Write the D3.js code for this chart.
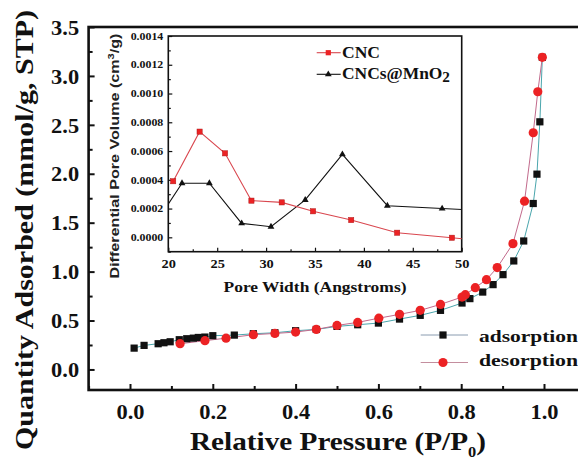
<!DOCTYPE html>
<html><head><meta charset="utf-8">
<script src="https://cdn.jsdelivr.net/npm/d3@7"></script>
<style>
body{margin:0;background:#fff}
svg text{font-family:"Liberation Serif","Times New Roman",serif;font-weight:bold;fill:#111}
</style>
</head><body><svg id="c" width="578" height="470"></svg>
<script>
// ---- main isotherm data ----
const adsP = [0.010,0.034,0.068,0.082,0.097,0.119,0.137,0.153,0.165,0.181,0.200,0.252,0.298,0.350,0.400,0.450,0.500,0.550,0.600,0.651,0.701,0.750,0.802,0.821,0.852,0.877,0.901,0.927,0.951,0.974,0.983,0.990,0.996];
const adsQ = [0.218,0.246,0.263,0.273,0.283,0.304,0.314,0.320,0.327,0.331,0.345,0.351,0.365,0.375,0.396,0.409,0.440,0.457,0.474,0.515,0.553,0.604,0.679,0.724,0.791,0.867,0.969,1.109,1.313,1.696,1.996,2.531,3.190];
const desP = [0.996,0.985,0.974,0.953,0.925,0.887,0.861,0.834,0.810,0.802,0.750,0.701,0.651,0.601,0.550,0.500,0.450,0.400,0.350,0.298,0.232,0.181,0.121];
const desQ = [3.190,2.838,2.419,1.720,1.286,1.041,0.918,0.836,0.764,0.740,0.665,0.604,0.563,0.524,0.481,0.450,0.409,0.382,0.368,0.355,0.320,0.294,0.263];
const xTicks = [0,0.2,0.4,0.6,0.8,1.0];
const xMinor = [-0.1,0.1,0.3,0.5,0.7,0.9];
const yTicks = [0,0.5,1.0,1.5,2.0,2.5,3.0,3.5];
const yMinor = [0.25,0.75,1.25,1.75,2.25,2.75,3.25];
// ---- inset pore size data ----
const cncW = [20.5,23.2,25.8,28.5,31.6,34.8,38.7,43.4,49.0,51.5];
const cncV = [0.00039,0.000735,0.000584,0.000255,0.000243,0.000181,0.00012,0.000032,-0.000003,-0.00002];
const mnW = [19.5,21.4,24.2,27.5,30.5,34.0,37.8,42.4,48.0,51.5];
const mnV = [0.00018,0.000376,0.000376,0.000097,0.000074,0.00026,0.000577,0.00022,0.0002,0.000188];
const ixTicks = [20,25,30,35,40,45,50];
const ixMinor = [22.5,27.5,32.5,37.5,42.5,47.5];
const iyTicks = [0,0.0002,0.0004,0.0006,0.0008,0.0010,0.0012,0.0014];
const iyMinor = [-0.0001,0.0001,0.0003,0.0005,0.0007,0.0009,0.0011,0.0013];

const svg = d3.select("#c");
const RED = "#ec2224";
const x = d3.scaleLinear([-0.1,1.1],[88.6,585.4]);
const y = d3.scaleLinear([-0.21,3.5],[390,27]);

function stretch(sel, f){ sel.each(function(){ const w=this.getComputedTextLength(); this.setAttribute("textLength", w*f); this.setAttribute("lengthAdjust","spacingAndGlyphs"); }); }

// main axes
const gx = svg.append("g").attr("transform",`translate(0,${y.range()[0]})`);
gx.call(d3.axisBottom(x).tickValues(xTicks).tickSize(-6).tickFormat(d3.format(".1f")));
gx.selectAll(".tick line").attr("stroke","#111").attr("stroke-width",2);
gx.selectAll("text").attr("y",29.3).attr("dy",null).style("font-size","20px");
stretch(gx.selectAll("text"),1.12);
const gx2 = svg.append("g").attr("transform",`translate(0,${y.range()[0]})`);
gx2.call(d3.axisBottom(x).tickValues(xMinor).tickSize(-4).tickFormat(""));
gx2.selectAll(".tick line").attr("stroke","#111").attr("stroke-width",2);

const gy = svg.append("g").attr("transform",`translate(${x.range()[0]},0)`);
gy.call(d3.axisLeft(y).tickValues(yTicks).tickSize(-6).tickFormat(d3.format(".1f")));
gy.selectAll(".tick line").attr("stroke","#111").attr("stroke-width",2);
gy.selectAll("text").attr("x",-9.5).attr("dy","0.36em").style("font-size","20px");
stretch(gy.selectAll("text"),1.12);
const gy2 = svg.append("g").attr("transform",`translate(${x.range()[0]},0)`);
gy2.call(d3.axisLeft(y).tickValues(yMinor).tickSize(-4).tickFormat(""));
gy2.selectAll(".tick line").attr("stroke","#111").attr("stroke-width",2);
svg.selectAll(".domain").remove();

// frame
svg.append("rect").attr("x",x.range()[0]).attr("y",y.range()[1])
  .attr("width",x.range()[1]-x.range()[0]).attr("height",y.range()[0]-y.range()[1])
  .attr("fill","none").attr("stroke","#111").attr("stroke-width",2.6);

// data lines
const line = d3.line().x(d=>x(d[0])).y(d=>y(d[1]));
const ads = adsP.map((p,i)=>[p,adsQ[i]]);
const des = desP.map((p,i)=>[p,desQ[i]]);
svg.append("path").attr("d",line(ads)).attr("fill","none").attr("stroke","#4aa6ad").attr("stroke-width",1);
svg.append("path").attr("d",line(des)).attr("fill","none").attr("stroke","#c26a8c").attr("stroke-width",1);
svg.append("g").selectAll("rect").data(ads).join("rect")
  .attr("x",d=>x(d[0])-3.6).attr("y",d=>y(d[1])-3.6).attr("width",7.2).attr("height",7.2).attr("fill","#111");
svg.append("g").selectAll("circle").data(des).join("circle")
  .attr("cx",d=>x(d[0])).attr("cy",d=>y(d[1])).attr("r",4.6).attr("fill",RED);

// main legend
const lg = svg.append("g");
lg.append("line").attr("x1",420.7).attr("x2",468).attr("y1",335).attr("y2",335).attr("stroke","#8a9cb0").attr("stroke-width",1);
lg.append("rect").attr("x",443-3.6).attr("y",335-3.6).attr("width",7.2).attr("height",7.2).attr("fill","#111");
lg.append("line").attr("x1",420.7).attr("x2",468).attr("y1",362.5).attr("y2",362.5).attr("stroke","#c48e9e").attr("stroke-width",1);
lg.append("circle").attr("cx",443).attr("cy",362.5).attr("r",4.6).attr("fill",RED);
lg.append("text").attr("x",479).attr("y",342).style("font-size","17px").attr("textLength",99).attr("lengthAdjust","spacingAndGlyphs").text("adsorption");
lg.append("text").attr("x",479).attr("y",365.5).style("font-size","17px").attr("textLength",99).attr("lengthAdjust","spacingAndGlyphs").text("desorption");

// axis titles
const xt = svg.append("text").attr("x",338).attr("y",450).attr("text-anchor","middle").style("font-size","25px")
  .attr("textLength",296).attr("lengthAdjust","spacingAndGlyphs");
xt.append("tspan").text("Relative Pressure (P/P");
xt.append("tspan").attr("dy",7).style("font-size","14px").text("0");
xt.append("tspan").attr("dy",-7).text(")");
svg.append("text").attr("transform","translate(33,230) rotate(-90)").attr("text-anchor","middle")
  .style("font-size","26px").attr("textLength",440).attr("lengthAdjust","spacingAndGlyphs")
  .text("Quantity Adsorbed (mmol/g, STP)");

// ---- inset ----
const xi = d3.scaleLinear([20,50],[168.3,461.7]);
const yi = d3.scaleLinear([-0.0001,0.0014],[251.7,36]);
svg.append("rect").attr("x",168.3).attr("y",36).attr("width",293.4).attr("height",215.7).attr("fill","#fff");
svg.append("clipPath").attr("id","ic").append("rect").attr("x",168.3).attr("y",36).attr("width",293.4).attr("height",215.7);

const ix = svg.append("g").attr("transform","translate(0,251.7)");
ix.call(d3.axisBottom(xi).tickValues(ixTicks).tickSize(-4).tickFormat(d3.format("d")));
ix.selectAll("text").attr("y",16.6).attr("dy",null).style("font-size","11.5px");
stretch(ix.selectAll("text"),1.25);
const ix2 = svg.append("g").attr("transform","translate(0,251.7)");
ix2.call(d3.axisBottom(xi).tickValues(ixMinor).tickSize(-2.5).tickFormat(""));
const iy = svg.append("g").attr("transform","translate(168.3,0)");
iy.call(d3.axisLeft(yi).tickValues(iyTicks).tickSize(-4).tickFormat(d3.format(".4f")));
iy.selectAll("text").attr("x",-5).attr("dy","0.34em").style("font-size","9.5px");
stretch(iy.selectAll("text"),1.25);
const iy2 = svg.append("g").attr("transform","translate(168.3,0)");
iy2.call(d3.axisLeft(yi).tickValues(iyMinor).tickSize(-2.5).tickFormat(""));
svg.selectAll(".domain").remove();
[ix,ix2,iy,iy2].forEach(g=>g.selectAll(".tick line").attr("stroke","#111").attr("stroke-width",1.2));
svg.append("rect").attr("x",168.3).attr("y",36).attr("width",293.4).attr("height",215.7)
  .attr("fill","none").attr("stroke","#111").attr("stroke-width",1.6);

const iline = d3.line().x(d=>xi(d[0])).y(d=>yi(d[1]));
const cnc = cncW.map((w,i)=>[w,cncV[i]]);
const mn = mnW.map((w,i)=>[w,mnV[i]]);
const ig = svg.append("g").attr("clip-path","url(#ic)");
ig.append("path").attr("d",iline(mn)).attr("fill","none").attr("stroke","#111").attr("stroke-width",1.1);
ig.append("path").attr("d",iline(cnc)).attr("fill","none").attr("stroke","#d9474f").attr("stroke-width",1.1);
const tri = d3.symbol().type(d3.symbolTriangle).size(20);
ig.selectAll("path.t").data(mn).join("path").attr("class","t").attr("d",tri)
  .attr("transform",d=>`translate(${xi(d[0])},${yi(d[1])})`).attr("fill","#111");
ig.selectAll("rect.s").data(cnc).join("rect").attr("class","s")
  .attr("x",d=>xi(d[0])-2.6).attr("y",d=>yi(d[1])-2.6).attr("width",5.2).attr("height",5.2)
  .attr("fill",RED).attr("stroke","#b01818").attr("stroke-width",0.5);

// inset legend
const il = svg.append("g");
il.append("line").attr("x1",316.7).attr("x2",340.7).attr("y1",52.7).attr("y2",52.7).attr("stroke","#d9474f").attr("stroke-width",1.1);
il.append("rect").attr("x",328.3-2.6).attr("y",52.7-2.6).attr("width",5.2).attr("height",5.2).attr("fill",RED);
il.append("line").attr("x1",316.7).attr("x2",340.7).attr("y1",74.3).attr("y2",74.3).attr("stroke","#111").attr("stroke-width",1.1);
il.append("path").attr("d",tri).attr("transform","translate(328.3,74.3)").attr("fill","#111");
il.append("text").attr("x",342).attr("y",57.5).style("font-size","16px").attr("textLength",38).attr("lengthAdjust","spacingAndGlyphs").text("CNC");
const lt = il.append("text").attr("x",342).attr("y",79.3).style("font-size","16px").attr("textLength",108).attr("lengthAdjust","spacingAndGlyphs");
lt.append("tspan").text("CNCs@MnO");
lt.append("tspan").attr("dy",3).style("font-size","14px").text("2");

// inset titles
svg.append("text").attr("x",315).attr("y",292).attr("text-anchor","middle").style("font-size","15px")
  .attr("textLength",183).attr("lengthAdjust","spacingAndGlyphs").text("Pore Width (Angstroms)");
const yt = svg.append("text").attr("transform","translate(119,156) rotate(-90)").attr("text-anchor","middle")
  .style("font-family","'Liberation Sans',Arial,sans-serif").style("font-weight","bold").style("font-size","13px")
  .style("fill","#222").attr("textLength",245).attr("lengthAdjust","spacingAndGlyphs");
yt.append("tspan").text("Differential Pore Volume (cm");
yt.append("tspan").attr("dy",-5).style("font-size","9px").text("3");
yt.append("tspan").attr("dy",5).text("/g)");
</script></body></html>
